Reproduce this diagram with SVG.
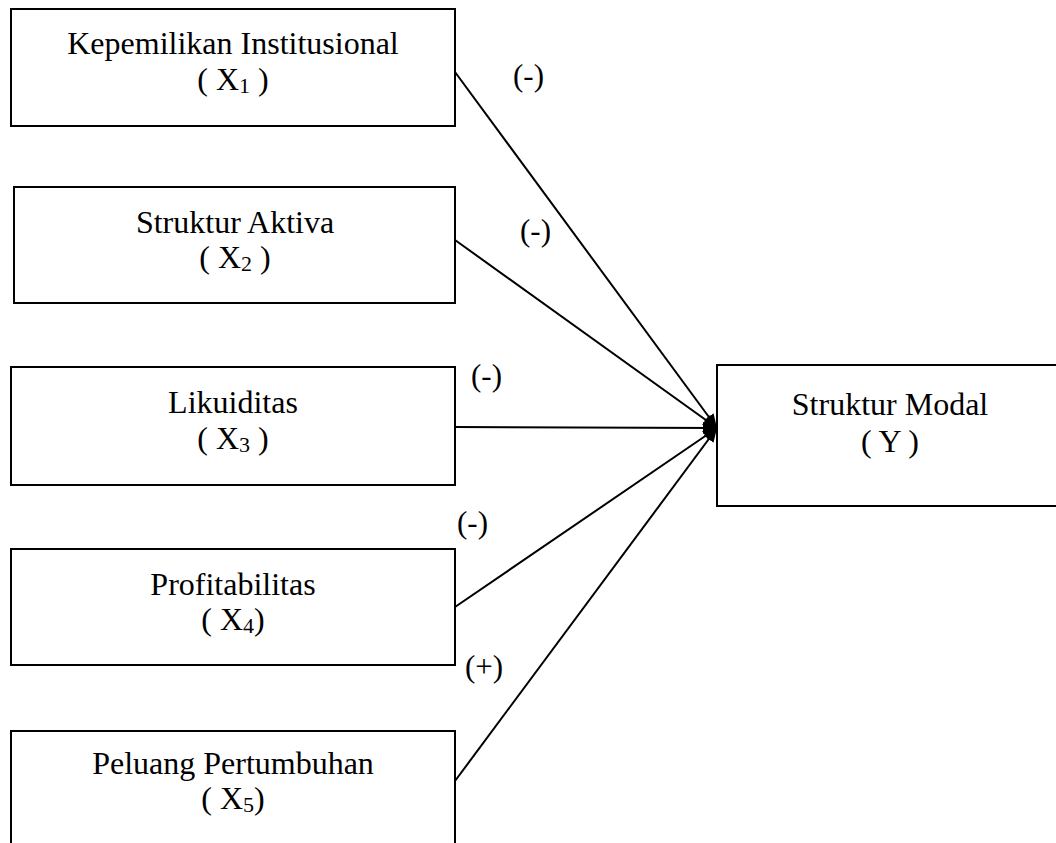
<svg xmlns="http://www.w3.org/2000/svg" width="1056" height="843" viewBox="0 0 1056 843">
<style>
.box{fill:#fff;stroke:#000;stroke-width:2}
.t{font-family:"Liberation Serif","Times New Roman",serif;font-size:32px;fill:#000;text-anchor:middle}
.lbl{font-family:"Liberation Serif","Times New Roman",serif;font-size:31px;fill:#000}
.sub{font-size:22px}
.c{stroke:#000;stroke-width:2;fill:none;marker-end:url(#ah)}
</style>
<defs>
<marker id="ah" markerUnits="userSpaceOnUse" markerWidth="16" markerHeight="12" refX="14" refY="6" orient="auto">
<path d="M0,0 L14,6 L0,12 Z" fill="#000"/>
</marker>
</defs>
<rect width="1056" height="843" fill="#fff"/>
<g id="x1">
<rect class="box" x="11" y="9" width="444" height="117"/>
<text class="t" x="233" y="54">Kepemilikan Institusional</text>
<text class="t" x="233" y="90">( X<tspan class="sub" dy="3">1</tspan><tspan dy="-3"> )</tspan></text>
</g>
<g id="x2">
<rect class="box" x="14" y="187" width="441" height="116"/>
<text class="t" x="235" y="233">Struktur Aktiva</text>
<text class="t" x="235" y="268">( X<tspan class="sub" dy="3">2</tspan><tspan dy="-3"> )</tspan></text>
</g>
<g id="x3">
<rect class="box" x="11" y="367" width="444" height="118"/>
<text class="t" x="233" y="413">Likuiditas</text>
<text class="t" x="233" y="449">( X<tspan class="sub" dy="3">3</tspan><tspan dy="-3"> )</tspan></text>
</g>
<g id="x4">
<rect class="box" x="11" y="549" width="444" height="116"/>
<text class="t" x="233" y="595">Profitabilitas</text>
<text class="t" x="233" y="630">( X<tspan class="sub" dy="3">4</tspan><tspan dy="-3">)</tspan></text>
</g>
<g id="x5">
<rect class="box" x="11" y="731" width="444" height="130"/>
<text class="t" x="233" y="774">Peluang Pertumbuhan</text>
<text class="t" x="233" y="809">( X<tspan class="sub" dy="3">5</tspan><tspan dy="-3">)</tspan></text>
</g>
<g id="y">
<rect class="box" x="717" y="365" width="350" height="141"/>
<text class="t" x="890" y="415">Struktur Modal</text>
<text class="t" x="890" y="452">( Y )</text>
</g>
<g id="connectors">
<line class="c" x1="455" y1="72" x2="717" y2="428"/>
<line class="c" x1="455" y1="240" x2="717" y2="428"/>
<line class="c" x1="455" y1="427" x2="717" y2="428"/>
<line class="c" x1="455" y1="607" x2="717" y2="428"/>
<line class="c" x1="455" y1="781" x2="717" y2="428"/>
<text class="lbl" x="513" y="86">(-)</text>
<text class="lbl" x="520" y="241">(-)</text>
<text class="lbl" x="471" y="386">(-)</text>
<text class="lbl" x="457" y="533">(-)</text>
<text class="lbl" x="465" y="677">(+)</text>
</g>
</svg>
